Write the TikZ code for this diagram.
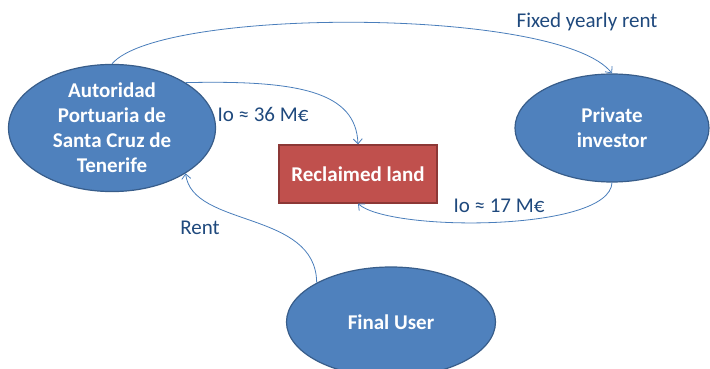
\documentclass[tikz,border=0pt]{standalone}
\usepackage{fontspec}
\setmainfont{Carlito}
\usepackage{tikz}
\usetikzlibrary{shapes,arrows.meta}

\definecolor{ovalblue}{HTML}{4F81BD}
\definecolor{ovaledge}{HTML}{385D8A}
\definecolor{landred}{HTML}{C0504D}
\definecolor{landedge}{HTML}{8C3836}
\definecolor{flowline}{HTML}{4A7EBB}
\definecolor{flowtext}{HTML}{1F497D}

\begin{document}
\begin{tikzpicture}[x=1pt,y=-1pt,
  party/.style={ellipse,fill=ovalblue,draw=ovaledge,line width=1.2pt,inner sep=0pt,
    text=white,font=\fontsize{21}{25}\selectfont\bfseries,align=center},
  landbox/.style={rectangle,fill=landred,draw=landedge,line width=1.2pt,inner sep=0pt,
    minimum width=158pt,minimum height=58pt,text=white,font=\fontsize{21}{25}\selectfont\bfseries},
  flow/.style={draw=flowline,line width=0.8pt,-{Straight Barb[length=5pt,width=9pt]}},
  flowlabel/.style={text=flowtext,font=\fontsize{21}{25}\selectfont,inner sep=0pt}]
\useasboundingbox (0,0) rectangle (710,369);

\node [party,minimum width=207pt,minimum height=108pt] (apt) at (112,128)
  {Autoridad\\Portuaria de\\Santa Cruz de\\Tenerife};
\node [party,minimum width=194pt,minimum height=108pt] (investor) at (612,128)
  {Private\\investor};
\node [party,minimum width=209pt,minimum height=110pt] (user) at (391,322)
  {Final User};
\node [landbox] (land) at (358,174) {Reclaimed land};

\draw [flow] (apt.north) .. controls (160,7) and (560,7) .. (investor.north);
\draw [flow] (apt.north east) .. controls (300,80) and (356,92) .. (land.north);
\draw [flow] (investor.south) .. controls (610,232) and (390,232) .. (land.south);
\draw [flow] (user.north west) .. controls (316,210) and (192,228) .. (apt.south east);

\node [flowlabel] (rentfix) at (587,22) {Fixed yearly rent};
\node [flowlabel] (invapt) at (263,114) {Io ≈ 36 M€};
\node [flowlabel] (invpriv) at (499,206) {Io ≈ 17 M€};
\node [flowlabel] (rentuser) at (200,228) {Rent};
\end{tikzpicture}
\end{document}
